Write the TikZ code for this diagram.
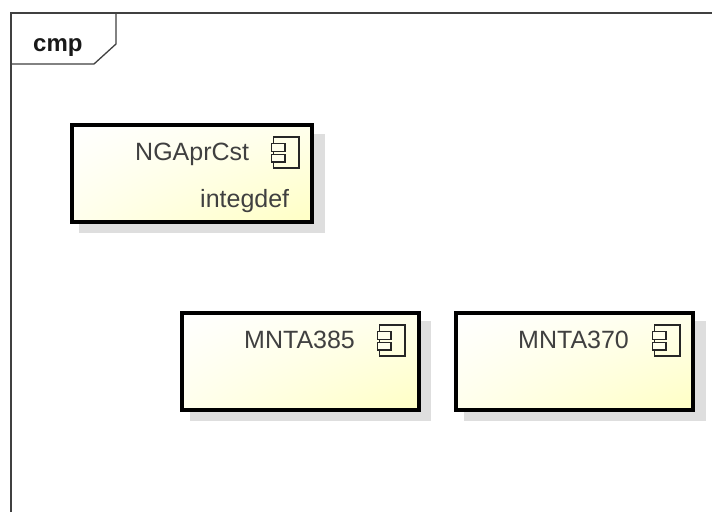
\documentclass[tikz,border=0pt]{standalone}
\usepackage{fontspec}
\usetikzlibrary{shadings}
\setmainfont{Liberation Sans}
\definecolor{frameline}{HTML}{404040}
\definecolor{shadowgray}{HTML}{DEDEDE}
\definecolor{labeltext}{HTML}{404040}
\definecolor{paleyellow}{HTML}{FFFFC4}
\definecolor{midyellow}{HTML}{FFFFEC}
\tikzset{
  framestyle/.style={draw=frameline,line width=1.3pt,line join=miter},
  compbox/.style={rectangle,draw=black,line width=4pt,inner sep=0pt,shade,
    upper left=white,upper right=midyellow,lower left=midyellow,lower right=paleyellow},
  shadowbox/.style={fill=shadowgray,draw=none},
  iconbody/.style={draw=black!85,line width=1.1pt},
  icontab/.style={draw=black!85,line width=1.1pt,fill=midyellow},
  lbl/.style={inner sep=0pt,text=labeltext,font=\fontsize{25}{25}\selectfont,anchor=base west},
}
\newcommand{\compicon}[2]{%
  \draw[iconbody] (#1+2.5,#2) rectangle (#1+28,#2+31);
  \draw[icontab] (#1+0.5,#2+6.5) rectangle (#1+14,#2+14.5);
  \draw[icontab] (#1+0.5,#2+17.5) rectangle (#1+14,#2+25);
}
\begin{document}
\begin{tikzpicture}[x=1pt,y=-1pt]
\useasboundingbox (0,0) rectangle (712,512);
\fill[white] (0,0) rectangle (712,512);
% frame
\coordinate (ftr) at (712,13);
\coordinate (ftl) at (11,13);
\coordinate (fbl) at (11,512);
\draw[framestyle] (fbl) -- (ftl) -- (ftr);
\coordinate (t1) at (116,13);
\coordinate (t2) at (116,44);
\coordinate (t3) at (94,64);
\coordinate (t4) at (11,64);
\draw[framestyle] (t1) -- (t2) -- (t3) -- (t4);
\node[inner sep=0pt,anchor=base west,text=black!90,font=\fontsize{24}{24}\selectfont\bfseries] (cmp) at (33,51) {cmp};
% shadows
\fill[shadowbox] (79,134) rectangle (325,233);
\fill[shadowbox] (190,321) rectangle (431,421);
\fill[shadowbox] (464,321) rectangle (706,421);
% boxes
\node[compbox,minimum width=240pt,minimum height=97pt] (b1) at (192,173.5) {};
\node[compbox,minimum width=237pt,minimum height=97pt] (b2) at (300.5,361.5) {};
\node[compbox,minimum width=237pt,minimum height=97pt] (b3) at (574.5,361.5) {};
% labels
\node[lbl] (n1) at (135,160) {NGAprCst};
\node[lbl] (n1b) at (200,207) {integdef};
\node[lbl] (n2) at (244,348) {MNTA385};
\node[lbl] (n3) at (518,348) {MNTA370};
% icons
\compicon{271}{137}
\compicon{377}{325}
\compicon{652}{325}
\end{tikzpicture}
\end{document}
